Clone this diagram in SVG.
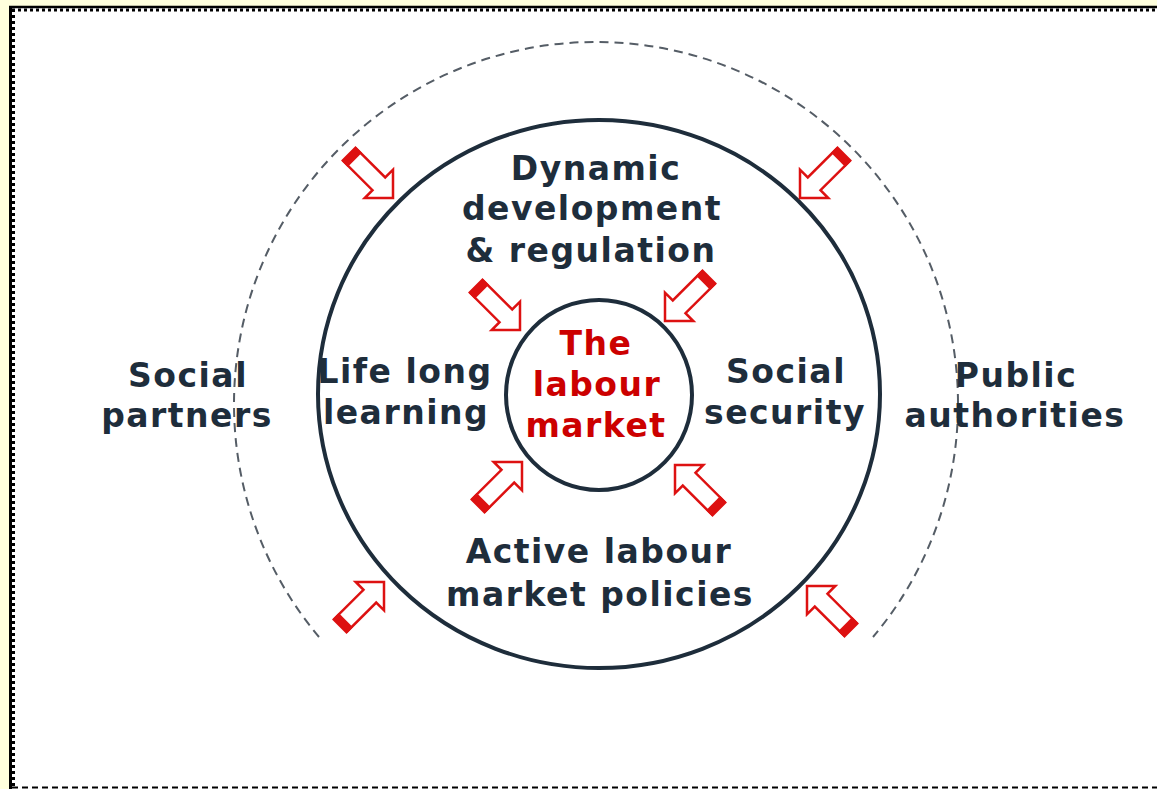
<svg xmlns="http://www.w3.org/2000/svg" width="1157" height="789" viewBox="0 0 1157 789">
<style>
.t{font-family:"DejaVu Sans",Verdana,sans-serif;font-weight:bold;font-size:33px;letter-spacing:1.5px;fill:#1e2d3b;text-anchor:middle}
.r{fill:#cc0000}
.ring{fill:none;stroke:#1e2d3b;stroke-width:4}
.arrow{fill:#fff;stroke:#dd1111;stroke-width:2.5;stroke-linejoin:miter}
</style>
<defs>
<g id="arr">
<path class="arrow" d="M-62,-9 H-20 V-20 L0,0 L-20,20 V9 H-62 Z"/>
<rect x="-62" y="-10" width="8" height="20" fill="#dd1111"/>
</g>
</defs>
<rect x="0" y="0" width="1157" height="789" fill="#ffffdd"/>
<rect x="9" y="6" width="1148" height="783" fill="#ffffff"/>
<g id="frame">
<line x1="10.5" y1="6" x2="10.5" y2="789" stroke="#000" stroke-width="3"/>
<line x1="13.5" y1="9" x2="13.5" y2="789" stroke="#000" stroke-width="3" stroke-dasharray="3 3"/>
<line x1="9" y1="7" x2="1157" y2="7" stroke="#000" stroke-width="2.5"/>
<line x1="12" y1="10" x2="1157" y2="10" stroke="#000" stroke-width="3" stroke-dasharray="3 3"/>
<line x1="12" y1="787.5" x2="1157" y2="787.5" stroke="#000" stroke-width="2" stroke-dasharray="6 4"/>
</g>
<g id="outer-ring">
<path d="M319,637 A362,362 0 1 1 873,637" fill="none" stroke="#555d66" stroke-width="2" stroke-dasharray="9 6"/>
</g>
<g id="middle-ring">
<ellipse class="ring" cx="599" cy="394" rx="281" ry="274"/>
</g>
<g id="inner-ring">
<ellipse class="ring" cx="599" cy="395" rx="93" ry="95"/>
</g>
<g id="connectors">
<use href="#arr" transform="translate(393,198) rotate(45)"/>
<use href="#arr" transform="translate(800,198) rotate(135)"/>
<use href="#arr" transform="translate(384,582) rotate(-45)"/>
<use href="#arr" transform="translate(807,586) rotate(-135)"/>
<use href="#arr" transform="translate(520,330) rotate(45)"/>
<use href="#arr" transform="translate(665,321) rotate(135)"/>
<use href="#arr" transform="translate(522,462) rotate(-45)"/>
<use href="#arr" transform="translate(675,465) rotate(-135)"/>
</g>
<g id="dynamic">
<text class="t" x="596" y="180">Dynamic</text>
<text class="t" x="592" y="220">development</text>
<text class="t" x="591" y="262">&amp; regulation</text>
</g>
<g id="labour-market">
<text class="t r" x="596" y="355">The</text>
<text class="t r" x="597" y="396">labour</text>
<text class="t r" x="596" y="437">market</text>
</g>
<g id="lifelong">
<text class="t" x="405" y="383">Life long</text>
<text class="t" x="406" y="424">learning</text>
</g>
<g id="social-security">
<text class="t" x="786" y="383">Social</text>
<text class="t" x="785" y="424">security</text>
</g>
<g id="social-partners">
<text class="t" x="188" y="387">Social</text>
<text class="t" x="187" y="427">partners</text>
</g>
<g id="public-authorities">
<text class="t" x="1016" y="387">Public</text>
<text class="t" x="1015" y="427">authorities</text>
</g>
<g id="active">
<text class="t" x="599" y="563">Active labour</text>
<text class="t" x="600" y="606">market policies</text>
</g>
</svg>
